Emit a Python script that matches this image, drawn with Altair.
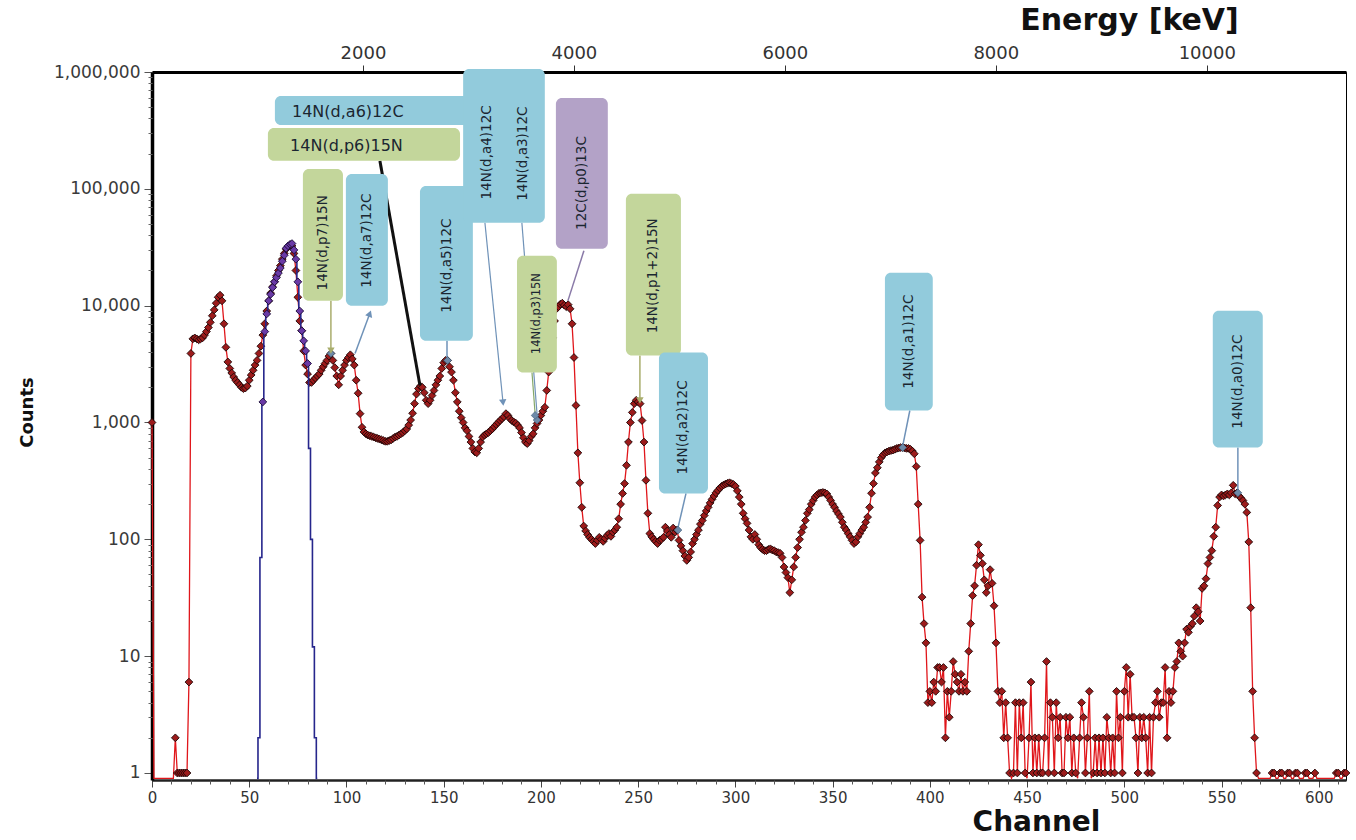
import altair as alt
import pandas as pd

# ---------------- data (counts per channel) ----------------
counts_000_099 = [
    1000, 0, 0, 0, 0, 0, 0, 0, 0, 0,
    0, 0, 2, 1, 1, 1, 1, 1, 1, 6,
    3900, 5200, 5300, 5200, 5100, 5200, 5300, 5600, 6000, 6500,
    7200, 8200, 9200, 10500, 11800, 12300, 11000, 7000, 4400, 3300,
    2900, 2650, 2450, 2300, 2200, 2100, 2000, 1950, 1970, 2050,
    2300, 2550, 2800, 3100, 3400, 3900, 4500, 5600, 7000, 9000,
    11000, 12800, 14500, 16000, 18000, 20000, 22000, 25000, 28000, 30500,
    32000, 33000, 32500, 28000, 20000, 11800, 7400, 6100, 4100, 3100,
    2600, 2200, 2200, 2300, 2400, 2500, 2600, 2800, 3000, 3200,
    3400, 3700, 3900, 3400, 2950, 2500, 2100, 2500, 2800, 3100,
]
counts_100_199 = [
    3400, 3600, 3800, 3500, 3100, 2300, 1780, 1190, 910, 830,
    800, 780, 770, 760, 750, 740, 730, 720, 710, 700,
    690, 690, 700, 710, 730, 750, 760, 780, 800, 820,
    850, 880, 950, 1050, 1200, 1450, 1750, 1950, 2050, 2000,
    1800, 1550, 1450, 1550, 1700, 1880, 2100, 2300, 2500, 2900,
    3250, 3400, 3400, 3000, 2700, 2300, 1800, 1500, 1250, 1100,
    1000, 900, 850, 760, 680, 600, 560, 550, 600, 680,
    750, 780, 800, 820, 850, 880, 920, 960, 1000, 1040,
    1080, 1120, 1190, 1150, 1080, 1040, 1010, 990, 950, 900,
    820, 740, 680, 660, 700, 760, 800, 900, 980, 1050,
]
counts_200_299 = [
    1150, 1250, 1350, 1880, 2700, 3800, 5300, 7400, 9400, 9800,
    10300, 10500, 10100, 9800, 10200, 9400, 7000, 3600, 1400, 550,
    305, 188, 130, 118, 110, 104, 100, 96, 92, 98,
    104, 100, 96, 102, 108, 112, 106, 115, 120, 127,
    150, 200, 247, 300, 430, 680, 1000, 1220, 1450, 1550,
    1500, 1450, 1040, 680, 320, 167, 112, 105, 100, 96,
    92, 98, 100, 104, 127, 118, 110, 104, 125, 115,
    120, 98, 88, 80, 72, 66, 70, 78, 92, 100,
    110, 120, 135, 145, 160, 175, 188, 205, 220, 235,
    250, 262, 275, 285, 292, 298, 302, 305, 300, 295,
]
counts_300_399 = [
    285, 260, 230, 200, 167, 150, 137, 120, 105, 100,
    110, 100, 90, 85, 82, 80, 80, 82, 83, 81,
    80, 78, 77, 76, 70, 58, 52, 47, 35, 45,
    58, 70, 85, 100, 115, 127, 145, 167, 180, 200,
    215, 230, 240, 248, 250, 252, 250, 245, 230, 215,
    200, 188, 175, 165, 155, 140, 127, 120, 112, 105,
    98, 92, 95, 105, 112, 120, 127, 140, 155, 188,
    248, 300, 370, 410, 460, 500, 530, 550, 560, 570,
    575, 580, 590, 600, 605, 610, 610, 605, 600, 600,
    590, 570, 540, 420, 200, 98, 32, 19, 13, 4,
]
counts_400_499 = [
    5, 4, 6, 5, 8, 8, 6, 8, 2, 5,
    3, 5, 9, 7, 6, 5, 7, 5, 6, 5,
    11, 19, 33, 40, 60, 90, 73, 62, 45, 35,
    40, 55, 42, 27, 13, 5, 4, 5, 2, 4,
    2, 1, 0, 1, 4, 1, 4, 2, 4, 1,
    0, 2, 6, 1, 2, 1, 2, 1, 1, 2,
    9, 1, 4, 3, 1, 4, 2, 3, 1, 1,
    3, 2, 3, 1, 2, 1, 0, 2, 4, 3,
    1, 2, 5, 0, 1, 2, 1, 2, 1, 2,
    1, 3, 2, 1, 2, 1, 5, 2, 3, 1,
]
counts_500_614 = [
    5, 8, 3, 7, 3, 3, 2, 1, 3, 2,
    3, 2, 1, 3, 1, 3, 4, 5, 3, 4,
    4, 8, 2, 5, 4, 5, 8, 9, 13, 11,
    10, 13, 17, 16, 18, 19, 22, 26, 24, 20,
    38, 40, 46, 62, 70, 80, 106, 127, 195, 230,
    240, 235, 240, 245, 240, 250, 290, 245, 250, 235,
    225, 215, 200, 170, 95, 26, 5, 2, 1, 0,
    0, 0, 0, 0, 0, 0, 1, 1, 0, 0,
    1, 1, 0, 0, 1, 1, 0, 0, 1, 1,
    0, 0, 0, 1, 1, 0, 0, 0, 1, 0,
    0, 0, 0, 0, 0, 0, 0, 0, 0, 1,
    1, 0, 0, 1, 1,
]

# second (blue) spectrum: channels 54..85
blue_first_channel = 54
blue_counts = [
    0, 2, 70, 1500, 6000, 8500, 11000, 12500, 14300, 16000,
    17400, 19000, 21000, 24000, 27000, 31000, 32500, 33500, 34000, 30000,
    25000, 16000, 9000, 6100, 5000, 4100, 3200, 600, 100, 12,
    2, 0,
]
blue_marker_range = (57, 80)

y_ticks = [1, 10, 100, 1000, 10000, 100000, 1000000]
y_minor = [m * d for d in y_ticks[:-1] for m in range(2, 10)]
x_ticks = list(range(0, 601, 50))
x_minor = [v for v in range(10, 611, 10) if v % 50 != 0]
energy_ticks = [2000, 4000, 6000, 8000, 10000]

# annotation labels (positions in data units: channel / counts)
box_label = ["a6", "p6", "p7", "a7", "a5", "a4a3", "p3", "p0", "p12", "a2", "a1", "a0"]
box_ch1 = [63.2, 59.6, 77.6, 99.7, 137.8, 160.0, 187.7, 207.7, 243.7, 260.7, 376.9, 545.5]
box_ch2 = [163.0, 158.4, 98.2, 121.3, 165.0, 202.0, 208.2, 234.4, 272.0, 285.9, 401.5, 571.2]
box_lo = [352000, 173500, 11040, 10000, 5020, 51200, 2675, 30700, 3740, 247, 1267, 611]
box_hi = [623000, 332000, 148000, 134000, 106000, 1060000, 26750, 600000, 90600, 3965, 19140, 9060]
box_kind = ["blue", "green", "green", "blue", "blue", "blue", "green", "purple", "green", "blue", "blue", "blue"]

htext_label = ["14N(d,a6)12C", "14N(d,p6)15N"]
htext_ch = [72.0, 71.0]
htext_cnt = [455000, 233000]

vtext_label = ["14N(d,p7)15N", "14N(d,a7)12C", "14N(d,a5)12C", "14N(d,a4)12C", "14N(d,a3)12C",
               "14N(d,p3)15N", "12C(d,p0)13C", "14N(d,p1+2)15N", "14N(d,a2)12C", "14N(d,a1)12C",
               "14N(d,a0)12C"]
vtext_ch = [87.9, 110.5, 151.7, 172.2, 190.7, 198.0, 221.0, 257.6, 273.0, 389.2, 558.4]
vtext_cnt = [34500, 36000, 22000, 205000, 200000, 8550, 112000, 18000, 906, 4920, 2240]
vtext_size = [13.5, 13.5, 13.5, 13.5, 13.5, 11.5, 13.5, 13.5, 13.5, 13.5, 13.5]

link_ch1 = [117.2, 92.0, 104.4, 151.7, 171.2, 190.2, 195.4, 222.1, 250.9, 274.6, 389.7, 558.4]
link_cnt1 = [173500, 11040, 3890, 5020, 51200, 51200, 2675, 29500, 3740, 247, 1267, 611]
link_ch2 = [137.8, 92.0, 112.0, 151.7, 180.5, 198.0, 197.0, 213.9, 250.9, 270.4, 386.1, 558.4]
link_cnt2 = [2070, 4125, 8550, 3595, 1483, 1194, 1194, 11040, 1542, 124, 636, 262]
link_kind = ["black", "olive", "steel", "steel", "steel", "steel", "green", "violet", "olive", "steel", "steel", "steel"]
link_width = [3.0, 1.5, 1.5, 1.5, 1.2, 1.2, 1.2, 1.5, 1.5, 1.5, 1.5, 1.5]

arrow_ch = [92.0, 112.0, 180.5, 250.9]
arrow_cnt = [4125, 8550, 1483, 1542]
arrow_shape = ["triangle-down", "triangle-up", "triangle-down", "triangle-down"]
arrow_angle = [0, 21, 354, 0]
arrow_kind = ["olive", "steel", "steel", "olive"]

target_ch = [92.0, 152.0, 198.0, 270.5, 386.0, 558.4, 197.0]
target_cnt = [3900, 3400, 1050, 120, 610, 250, 1150]

# ---------------- tables ----------------
red_counts = (counts_000_099 + counts_100_199 + counts_200_299 + counts_300_399
              + counts_400_499 + counts_500_614)
red = pd.DataFrame({"channel": list(range(len(red_counts))), "counts": red_counts})
red["y"] = red["counts"].clip(lower=0.9)
red_pts = red[red["counts"] > 0]

blue = pd.DataFrame({"channel": list(range(blue_first_channel, blue_first_channel + len(blue_counts))),
                     "counts": blue_counts})
blue["y"] = blue["counts"].clip(lower=0.9)
blue_pts = blue[(blue["channel"] >= blue_marker_range[0]) & (blue["channel"] <= blue_marker_range[1])]

fill_map = {"blue": "#92cbdc", "green": "#c3d69b", "purple": "#b3a2c7"}
line_map = {"black": "#111111", "olive": "#a9ad6c", "steel": "#6f92b8", "green": "#86a86a", "violet": "#8a7aa8"}

boxes = pd.DataFrame({"label": box_label, "x1": box_ch1, "x2": box_ch2, "y1": box_lo, "y2": box_hi,
                      "fill": [fill_map[k] for k in box_kind]})
htexts = pd.DataFrame({"label": htext_label, "x": htext_ch, "y": htext_cnt})
vtexts = pd.DataFrame({"label": vtext_label, "x": vtext_ch, "y": vtext_cnt, "size": vtext_size})
links = pd.DataFrame({"x1": link_ch1, "y1": link_cnt1, "x2": link_ch2, "y2": link_cnt2,
                      "color": [line_map[k] for k in link_kind], "w": link_width})
arrows = pd.DataFrame({"x": arrow_ch, "y": arrow_cnt, "shape": arrow_shape, "angle": arrow_angle,
                       "color": [line_map[k] for k in arrow_kind]})
targets = pd.DataFrame({"x": target_ch, "y": target_cnt})

# ---------------- scales & axes ----------------
FONT = "DejaVu Sans"


def xs():
    return alt.Scale(domain=[0, 614], nice=False, zero=False)


def ys():
    return alt.Scale(type="log", domain=[0.871, 1000000], nice=False)


x_axis = alt.Axis(
    orient="bottom", values=x_ticks, format="d", grid=False, labelOverlap=False, labelFlush=False,
    tickSize=7, tickColor="#444", domainColor="#222", domainWidth=2.5,
    labelFont=FONT, labelFontSize=15, labelColor="#333", labelPadding=3,
    title="Channel", titleFont=FONT, titleFontSize=28, titleFontWeight="bold", titleColor="#111",
    titleX=884, titleY=42, titleAlign="center", titleBaseline="middle",
)
y_axis = alt.Axis(
    orient="left", values=y_ticks, format=",", grid=False, labelOverlap=False, labelFlush=False,
    tickSize=8, tickColor="#555", domainColor="#000", domainWidth=3.5,
    labelFont=FONT, labelFontSize=17, labelColor="#3a3a3a", labelPadding=4,
    title="Counts", titleFont=FONT, titleFontSize=18, titleFontWeight="bold", titleColor="#111",
    titleAngle=270, titleX=-125, titleY=340, titleAlign="center", titleBaseline="middle",
)
e_axis = alt.Axis(
    orient="top", values=energy_ticks, format="d", grid=False, labelFlush=False, labelOverlap=False,
    tickSize=7, tickColor="#333", domainColor="#000", domainWidth=3,
    labelFont=FONT, labelFontSize=18, labelColor="#333", labelPadding=3,
    title="Energy [keV]", titleFont=FONT, titleFontSize=30, titleFontWeight="bold", titleColor="#111",
    titleX=977, titleY=-52, titleAlign="center", titleBaseline="middle",
)
x_minor_axis = alt.Axis(orient="bottom", values=x_minor, labels=False, domain=False, grid=False,
                        tickSize=4, tickColor="#555", title=None)
y_minor_axis = alt.Axis(orient="left", values=y_minor, labels=False, domain=False, grid=False,
                        tickSize=4, tickColor="#666", title=None)

# ---------------- layers ----------------
line_red = alt.Chart(red).mark_line(color="#e0161b", strokeWidth=1.3).encode(
    x=alt.X("channel:Q", scale=xs(), axis=x_axis),
    y=alt.Y("y:Q", scale=ys(), axis=y_axis),
)
pts_red = alt.Chart(red_pts).mark_point(
    shape="diamond", filled=True, fill="#9c1b1b", stroke="#1e0606", strokeWidth=0.9,
    size=60, opacity=1, fillOpacity=1, strokeOpacity=1,
).encode(x=alt.X("channel:Q", scale=xs(), axis=None), y=alt.Y("y:Q", scale=ys(), axis=None))

line_blue = alt.Chart(blue).mark_line(color="#26268c", strokeWidth=1.6, interpolate="step").encode(
    x=alt.X("channel:Q", scale=xs(), axis=None), y=alt.Y("y:Q", scale=ys(), axis=None))
pts_blue = alt.Chart(blue_pts).mark_point(
    shape="diamond", filled=True, fill="#6a3aa6", stroke="#1a0a35", strokeWidth=0.9,
    size=60, opacity=1, fillOpacity=1, strokeOpacity=1,
).encode(x=alt.X("channel:Q", scale=xs(), axis=None), y=alt.Y("y:Q", scale=ys(), axis=None))

link_layer = alt.Chart(links).mark_rule().encode(
    x=alt.X("x1:Q", scale=xs(), axis=None), x2="x2:Q",
    y=alt.Y("y1:Q", scale=ys(), axis=None), y2="y2:Q",
    color=alt.Color("color:N", scale=None),
    strokeWidth=alt.StrokeWidth("w:Q", scale=None),
)
target_layer = alt.Chart(targets).mark_point(
    shape="diamond", filled=True, fill="#6d8aa8", stroke="#3c5a78", strokeWidth=0.6, size=60, opacity=1,
).encode(x=alt.X("x:Q", scale=xs(), axis=None), y=alt.Y("y:Q", scale=ys(), axis=None))

box_layer = alt.Chart(boxes).mark_rect(cornerRadius=6).encode(
    x=alt.X("x1:Q", scale=xs(), axis=None), x2="x2:Q",
    y=alt.Y("y1:Q", scale=ys(), axis=None), y2="y2:Q",
    color=alt.Color("fill:N", scale=None),
)
htext_layer = alt.Chart(htexts).mark_text(
    font=FONT, fontSize=16, color="#1b2631", align="left", baseline="middle",
).encode(x=alt.X("x:Q", scale=xs(), axis=None), y=alt.Y("y:Q", scale=ys(), axis=None), text="label:N")
vtext_layer = alt.Chart(vtexts).mark_text(
    font=FONT, color="#1b2631", align="center", baseline="middle", angle=270,
).encode(x=alt.X("x:Q", scale=xs(), axis=None), y=alt.Y("y:Q", scale=ys(), axis=None), text="label:N",
         size=alt.Size("size:Q", scale=None))
arrow_layer = alt.Chart(arrows).mark_point(filled=True, size=55, opacity=1).encode(
    x=alt.X("x:Q", scale=xs(), axis=None), y=alt.Y("y:Q", scale=ys(), axis=None),
    shape=alt.Shape("shape:N", scale=None),
    angle=alt.Angle("angle:Q", scale=None),
    color=alt.Color("color:N", scale=None),
)

energy = alt.Chart(pd.DataFrame({"energy": energy_ticks})).mark_point(opacity=0).encode(
    x=alt.X("energy:Q", scale=alt.Scale(domain=[0, 11320], nice=False, zero=False), axis=e_axis)
)
minor_x = alt.Chart(pd.DataFrame({"v": x_minor})).mark_point(opacity=0).encode(
    x=alt.X("v:Q", scale=xs(), axis=x_minor_axis)
)
minor_y = alt.Chart(pd.DataFrame({"v": y_minor})).mark_point(opacity=0).encode(
    y=alt.Y("v:Q", scale=ys(), axis=y_minor_axis)
)

chart = (
    alt.layer(line_red, pts_red, line_blue, pts_blue, link_layer, target_layer,
              box_layer, htext_layer, vtext_layer, arrow_layer, energy, minor_x, minor_y)
    .resolve_scale(x="independent", y="independent")
    .properties(
        width=1194, height=708,
        padding={"left": 152, "top": 72, "right": 10, "bottom": 60},
        autosize=alt.AutoSizeParams(type="none"),
        background="white",
    )
    .configure_view(stroke="#000", strokeWidth=1)
)

chart.save("out.html", embed_options={"renderer": "svg", "actions": False})
